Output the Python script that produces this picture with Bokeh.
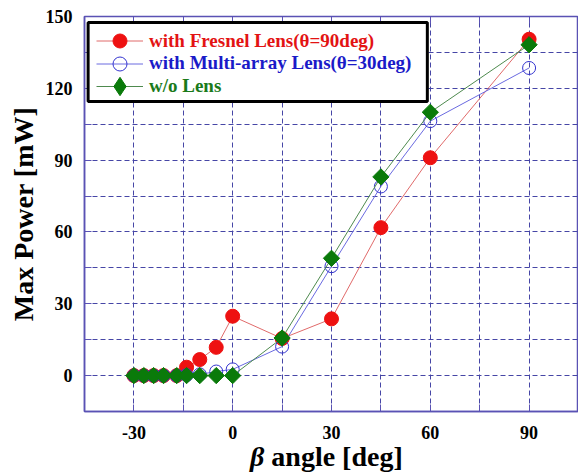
import numpy as np
from bokeh.plotting import figure
from bokeh.layouts import column
from bokeh.models import Legend, LegendItem, BoxAnnotation, Div, FixedTicker, LinearAxis
from bokeh.embed import file_html
from bokeh.resources import INLINE

# ---- data ----
beta = [-30, -27, -24, -21, -17, -14, -10, -5, 0, 15, 30, 45, 60, 90]
fresnel = [0, 0, 0, 0, 0, 3.5, 6.7, 11.8, 24.8, 15.5, 23.7, 61.8, 91, 140.5]
multi = [0, 0, 0, 0, 0, 0.2, 0.5, 1.7, 2.6, 12.1, 45.7, 79, 106.3, 128.5]
nolens = [0, 0, 0, 0, 0, 0, 0, 0, 0, 15.7, 49, 83, 110, 138.2]
labels = ["with Fresnel Lens(\u03b8=90deg)", "with Multi-array Lens(\u03b8=30deg)", "w/o Lens"]
x_major = [-30, 0, 30, 60, 90]
x_minor = [-45, -15, 15, 45, 75, 105]
y_major = [0, 30, 60, 90, 120, 150]
y_minor = [-15, 15, 45, 75, 105, 135]
x_tick_text = {v: str(v) for v in x_major}

FONT = "Liberation Serif"
FRAME_C = "#5a52b4"
GRID_C = "#4646a6"

p = figure(width=578, height=447, x_range=(-45, 105), y_range=(-15, 150),
           output_backend="svg", toolbar_location=None,
           min_border_left=84, min_border_right=0, min_border_top=16, min_border_bottom=36)
p.background_fill_color = "white"
p.border_fill_color = "white"
p.outline_line_color = FRAME_C
p.outline_line_width = 1.5

for ax, maj, mnr in ((p.xaxis[0], x_major, x_minor), (p.yaxis[0], y_major, y_minor)):
    ax.ticker = FixedTicker(ticks=maj, minor_ticks=mnr)
    ax.axis_line_color = FRAME_C
    ax.axis_line_width = 1.5
    ax.major_tick_in = 7
    ax.major_tick_out = 0
    ax.minor_tick_in = 7
    ax.minor_tick_out = 0
    ax.major_tick_line_color = FRAME_C
    ax.minor_tick_line_color = FRAME_C
    ax.major_label_text_font = FONT
    ax.major_label_text_font_style = "bold"
    ax.major_label_text_font_size = "18px"
    ax.major_label_text_color = "black"

p.xaxis.major_label_overrides = x_tick_text
p.xaxis.major_label_standoff = 14
p.yaxis.major_label_standoff = 12
p.yaxis.axis_label = "Max Power [mW]"
p.yaxis.axis_label_text_font = FONT
p.yaxis.axis_label_text_font_style = "bold"
p.yaxis.axis_label_text_font_size = "28px"
p.yaxis.axis_label_text_color = "black"
p.yaxis.axis_label_standoff = 4

# top edge: tick marks only (all as minor ticks, so no labels)
top = LinearAxis(ticker=FixedTicker(ticks=[], minor_ticks=sorted(x_major + x_minor)),
                 major_tick_in=0, major_tick_out=0,
                 minor_tick_in=7, minor_tick_out=0, major_label_standoff=0,
                 axis_line_color=None, minor_tick_line_color=FRAME_C)
p.add_layout(top, "above")

for g in (p.xgrid[0], p.ygrid[0]):
    g.grid_line_color = GRID_C
    g.grid_line_dash = "5 3"
    g.grid_line_width = 1
    g.minor_grid_line_color = GRID_C
    g.minor_grid_line_dash = "5 3"
    g.minor_grid_line_width = 1

# ---- series ----
l_red = p.line(beta, fresnel, line_color="#e06a6a", line_width=1)
s_red = p.scatter(beta, fresnel, marker="circle", size=14, fill_color="#ee1111", line_color="#ee1111")
l_blue = p.line(beta, multi, line_color="#6a6ae0", line_width=1)
s_blue = p.scatter(beta, multi, marker="circle", size=13, fill_color=None, line_color="#3434d0", line_width=1)
l_green = p.line(beta, nolens, line_color="#4e8a4e", line_width=1)
# small diamond underneath (hidden by the rotated squares) used for the legend sample
s_green_leg = p.scatter(beta, nolens, marker="diamond", size=9, fill_color="#0a7a0a", line_color="#0a7a0a")
s_green = p.scatter(beta, nolens, marker="square", size=11.5, angle=np.pi / 4,
                    fill_color="#0a7a0a", line_color="#0a7a0a")

# ---- legend box ----
box = BoxAnnotation(left=-43.9, right=59.1, top=147.5, bottom=114.5,
                    fill_color="white", fill_alpha=1.0, line_color="black",
                    line_alpha=1.0, line_width=3)
p.add_layout(box)

text_colors = ["#e31313", "#1a1ac8", "#1a7a1a"]
rends = [[l_red, s_red], [l_blue, s_blue], [l_green, s_green_leg]]
gh = [35, 35, 46]
vys = [353, 330.5, 302]
for lab, col, rr, vy, h in zip(labels, text_colors, rends, vys, gh):
    leg = Legend(items=[LegendItem(label=lab, renderers=rr)], location=(12, vy),
                 padding=0, margin=0, spacing=0, glyph_width=47, glyph_height=h,
                 label_height=h, label_standoff=6,
                 label_text_font=FONT, label_text_font_style="bold",
                 label_text_font_size="19px", label_text_color=col,
                 background_fill_alpha=0, border_line_color=None)
    p.add_layout(leg)

# ---- x axis title (italic beta) ----
xtitle = Div(width=578, height=25,
             text=('<div style="position:relative; left:245px; top:-9px; '
                   "font-family:'Liberation Serif'; font-weight:bold; font-size:28px; "
                   'line-height:1; white-space:nowrap; color:black;">'
                   '<i>\u03b2</i> angle [deg]</div>'))

layout = column(p, xtitle, spacing=0)
open("out.html", "w").write(file_html(layout, INLINE))
